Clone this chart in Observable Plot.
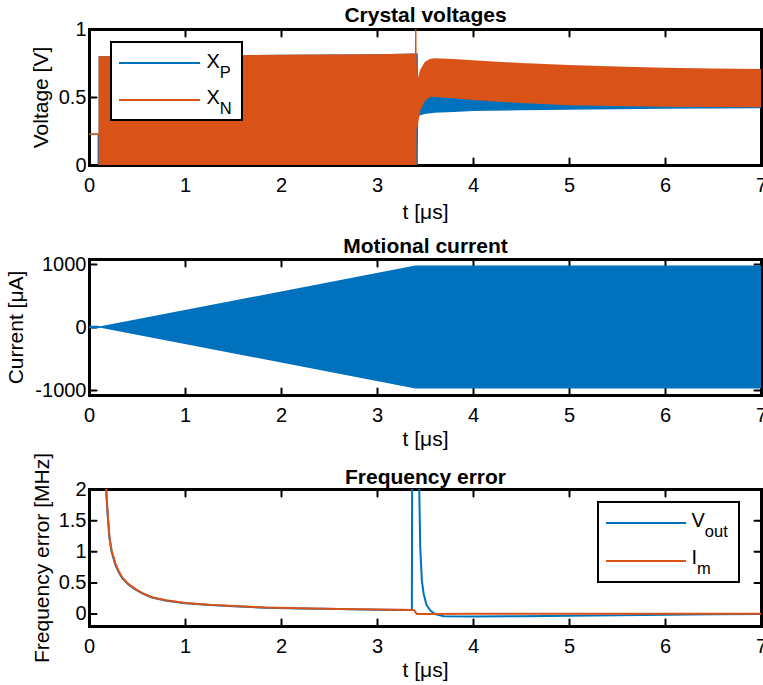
<!DOCTYPE html>
<html><head><meta charset="utf-8">
<script src="https://cdn.jsdelivr.net/npm/d3@7"></script>
<script src="https://cdn.jsdelivr.net/npm/@observablehq/plot@0.6"></script>
<style>
body{margin:0;background:#fff;}
#wrap{position:relative;width:763px;height:685px;font-family:"Liberation Sans",Arial,Helvetica,sans-serif;overflow:hidden;}
#wrap svg{display:block;}
.legend{position:absolute;border:2.5px solid #000;background:#fff;box-sizing:border-box;}
.legend .sw{position:absolute;height:2px;}
.legend .lb{position:absolute;font-size:20px;line-height:20px;color:#000;white-space:nowrap;}
.legend .lb sub{font-size:16.5px;vertical-align:-10px;line-height:0;}
</style></head>
<body>
<div id="wrap">
  <div class="legend" style="left:110px;top:41px;width:133px;height:80px;">
    <div class="sw" style="left:6.5px;top:18.5px;width:81px;background:#0072BD"></div>
    <div class="lb" style="left:94.5px;top:8px;">X<sub>P</sub></div>
    <div class="sw" style="left:6.5px;top:55.5px;width:81px;background:#D95319"></div>
    <div class="lb" style="left:94.5px;top:43.5px;">X<sub>N</sub></div>
  </div>
  <div class="legend" style="left:597px;top:501px;width:143px;height:82px;">
    <div class="sw" style="left:6.5px;top:18.5px;width:80px;background:#0072BD"></div>
    <div class="lb" style="left:92.5px;top:6.7px;">V<sub>out</sub></div>
    <div class="sw" style="left:6.5px;top:56.5px;width:80px;background:#D95319"></div>
    <div class="lb" style="left:92.5px;top:44.3px;">I<sub>m</sub></div>
  </div>
</div>
<script>
// ---------- data ----------
const xTicks = [0, 1, 2, 3, 4, 5, 6, 7];

// Crystal voltages: envelopes of the oscillating X_P / X_N signals
const xpPreT = [0, 0.092, 0.092];
const xpPreV = [0.23, 0.23, 0];
const xpT  = [0.1, 1.0, 2.0, 3.0, 3.425, 3.428, 3.45, 3.5, 3.6, 3.8, 4.0, 4.5, 5.0, 5.5, 6.0, 6.5, 7.0];
const xpLo = [0, 0, 0, 0, 0, 0.355, 0.365, 0.375, 0.385, 0.39, 0.397, 0.402, 0.407, 0.41, 0.413, 0.416, 0.418];
const xpHi = [0.80, 0.805, 0.81, 0.815, 0.82, 0.52, 0.52, 0.52, 0.52, 0.51, 0.50, 0.475, 0.46, 0.45, 0.445, 0.44, 0.44];

const xnPreT = [0, 0.1];
const xnPreV = [0.23, 0.23];
const xnT  = [0.1, 1.0, 2.0, 3.0, 3.395, 3.398, 3.411, 3.412, 3.415, 3.427, 3.45, 3.5, 3.55, 3.6, 3.8, 4.0, 4.5, 5.0, 5.5, 6.0, 6.5, 7.0];
const xnLo = [0, 0, 0, 0, 0, 0, 0, 0.26, 0.27, 0.30, 0.40, 0.47, 0.50, 0.50, 0.49, 0.478, 0.455, 0.44, 0.433, 0.428, 0.426, 0.425];
const xnHi = [0.80, 0.805, 0.81, 0.815, 0.82, 1.05, 1.05, 0.80, 0.72, 0.64, 0.70, 0.76, 0.78, 0.785, 0.78, 0.77, 0.75, 0.735, 0.725, 0.715, 0.71, 0.706];
const vTicks = [0, 0.5, 1];

// Motional current envelope [uA]
const imT  = [0, 0.09, 0.12, 3.4, 7.0];
const imHi = [20, 20, 10, 975, 975];
const imLo = [-20, -20, -10, -975, -975];
const iTicks = [-1000, 0, 1000];

// Frequency error [MHz]
const feImT = [0.165, 0.173, 0.19, 0.208, 0.23, 0.27, 0.3, 0.34, 0.4, 0.48, 0.56, 0.65, 0.8, 1.0, 1.25, 1.5, 1.83, 2.2, 2.6, 3.0, 3.38, 3.41, 3.5, 4, 5, 6, 7];
const feImV = [2.15, 2.0, 1.6, 1.24, 1.02, 0.81, 0.70, 0.59, 0.49, 0.40, 0.33, 0.27, 0.22, 0.177, 0.148, 0.128, 0.105, 0.092, 0.082, 0.072, 0.064, 0.0, 0.002, 0.003, 0.003, 0.003, 0.003];
const feVoT = [0.165, 0.173, 0.19, 0.208, 0.23, 0.27, 0.3, 0.34, 0.4, 0.48, 0.56, 0.65, 0.8, 1.0, 1.25, 1.5, 1.83, 2.2, 2.6, 3.0, 3.358, 3.362, 3.425, 3.435, 3.445, 3.462, 3.48, 3.51, 3.55, 3.6, 3.69, 4.0, 4.5, 5.0, 5.5, 6.0, 6.5, 7.0];
const feVoV = [2.15, 2.0, 1.58, 1.22, 1.0, 0.79, 0.685, 0.578, 0.48, 0.392, 0.325, 0.265, 0.215, 0.173, 0.145, 0.125, 0.103, 0.09, 0.08, 0.07, 0.064, 3.0, 3.0, 2.0, 1.08, 0.54, 0.33, 0.15, 0.056, 0.0, -0.035, -0.04, -0.035, -0.027, -0.018, -0.01, -0.004, 0.0];
const fTicks = [0, 0.5, 1, 1.5, 2];

// ---------- drawing ----------
const font = "Liberation Sans, Arial, Helvetica, sans-serif";
const blue = "#0072BD", orange = "#D95319";
const tickShape = {draw(ctx, l) { ctx.moveTo(0, 0); ctx.lineTo(0, -l); }};
const tk = {length: 7, anchor: "start", shape: tickShape, stroke: "black", strokeWidth: 2};
const idx = (a) => d3.range(a.length);
const centered = {textAnchor: "middle", lineAnchor: "middle", text: d => d, fontSize: 21};

function panel({height, marginBottom, yDomain, yTicks, title, yLabel, yLabelDx, titleDy, xLabelDy, data}) {
  return Plot.plot({
    width: 763, height, marginLeft: 89, marginRight: 2, marginTop: 29, marginBottom,
    x: {domain: [0, 7]},
    y: {domain: yDomain},
    style: {fontFamily: font, fontSize: "20px", color: "black", background: "white", overflow: "visible"},
    marks: [
      Plot.frame({stroke: "black", strokeWidth: 3}),
      Plot.vector(xTicks, {x: d => d, frameAnchor: "bottom", rotate: 0, ...tk}),
      Plot.vector(xTicks, {x: d => d, frameAnchor: "top", rotate: 180, ...tk}),
      Plot.vector(yTicks, {y: d => d, frameAnchor: "left", rotate: 90, ...tk}),
      Plot.vector(yTicks, {y: d => d, frameAnchor: "right", rotate: 270, ...tk}),
      Plot.axisX(xTicks, {tickSize: 0, tickPadding: 12, tickFormat: d => String(d), label: null, fontSize: 20}),
      Plot.axisY(yTicks, {tickSize: 0, tickPadding: 3, tickFormat: d => String(d), label: null, fontSize: 20}),
      ...data,
      Plot.text([title], {frameAnchor: "top", dy: titleDy, ...centered, fontWeight: "bold"}),
      Plot.text(["t [μs]"], {frameAnchor: "bottom", dy: xLabelDy, ...centered}),
      Plot.text([yLabel], {frameAnchor: "left", dx: -yLabelDx, rotate: -90, ...centered})
    ]
  });
}

const p1 = panel({
  height: 230, marginBottom: 65, yDomain: [0, 1], yTicks: vTicks,
  title: "Crystal voltages", yLabel: "Voltage [V]", yLabelDx: 48, titleDy: -14, xLabelDy: 47,
  data: [
    Plot.areaY(idx(xpT), {x: i => xpT[i], y1: i => xpLo[i], y2: i => xpHi[i], fill: blue, clip: true}),
    Plot.line(idx(xpPreT), {x: i => xpPreT[i], y: i => xpPreV[i], stroke: blue, strokeWidth: 1.5, clip: true}),
    Plot.areaY(idx(xnT), {x: i => xnT[i], y1: i => xnLo[i], y2: i => xnHi[i], fill: orange, clip: true}),
    Plot.line(idx(xnPreT), {x: i => xnPreT[i], y: i => xnPreV[i], stroke: orange, strokeWidth: 1.5, clip: true})
  ]
});

const p2 = panel({
  height: 230, marginBottom: 65, yDomain: [-1080, 1080], yTicks: iTicks,
  title: "Motional current", yLabel: "Current [μA]", yLabelDx: 73, titleDy: -13, xLabelDy: 44,
  data: [
    Plot.areaY(idx(imT), {x: i => imT[i], y1: i => imLo[i], y2: i => imHi[i], fill: blue, clip: true})
  ]
});

const p3 = panel({
  height: 225, marginBottom: 59, yDomain: [-0.2, 2], yTicks: fTicks,
  title: "Frequency error", yLabel: "Frequency error [MHz]", yLabelDx: 47, titleDy: -12, xLabelDy: 44,
  data: [
    Plot.line(idx(feVoT), {x: i => feVoT[i], y: i => feVoV[i], stroke: blue, strokeWidth: 2, clip: true}),
    Plot.line(idx(feImT), {x: i => feImT[i], y: i => feImV[i], stroke: orange, strokeWidth: 2, clip: true})
  ]
});

const wrap = document.getElementById("wrap");
wrap.prepend(p1, p2, p3);
</script>
</body></html>
